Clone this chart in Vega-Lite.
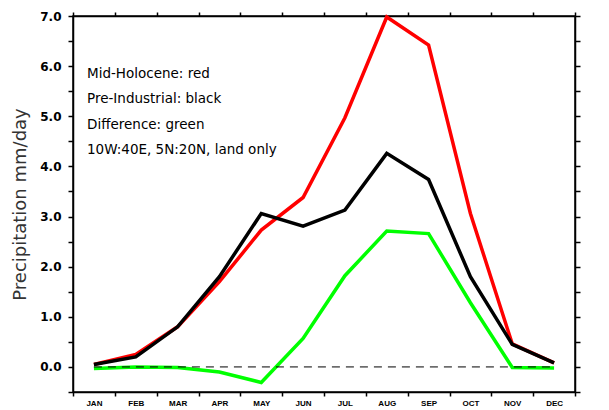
{
  "$schema": "https://vega.github.io/schema/vega-lite/v6.json",
  "width": 502,
  "height": 376,
  "autosize": "none",
  "padding": {"left": 73, "top": 16, "right": 34, "bottom": 18},
  "background": "white",
  "config": {"view": {"stroke": "black", "strokeWidth": 1.5}},
  "data": {"values": [
    {"month": 1, "series": "Mid-Holocene", "value": 0.05},
    {"month": 2, "series": "Mid-Holocene", "value": 0.25},
    {"month": 3, "series": "Mid-Holocene", "value": 0.8},
    {"month": 4, "series": "Mid-Holocene", "value": 1.7},
    {"month": 5, "series": "Mid-Holocene", "value": 2.73},
    {"month": 6, "series": "Mid-Holocene", "value": 3.38},
    {"month": 7, "series": "Mid-Holocene", "value": 4.97},
    {"month": 8, "series": "Mid-Holocene", "value": 6.98},
    {"month": 9, "series": "Mid-Holocene", "value": 6.42},
    {"month": 10, "series": "Mid-Holocene", "value": 3.06},
    {"month": 11, "series": "Mid-Holocene", "value": 0.46},
    {"month": 12, "series": "Mid-Holocene", "value": 0.08},
    {"month": 1, "series": "Pre-Industrial", "value": 0.05},
    {"month": 2, "series": "Pre-Industrial", "value": 0.2},
    {"month": 3, "series": "Pre-Industrial", "value": 0.8},
    {"month": 4, "series": "Pre-Industrial", "value": 1.8},
    {"month": 5, "series": "Pre-Industrial", "value": 3.06},
    {"month": 6, "series": "Pre-Industrial", "value": 2.81},
    {"month": 7, "series": "Pre-Industrial", "value": 3.13},
    {"month": 8, "series": "Pre-Industrial", "value": 4.26},
    {"month": 9, "series": "Pre-Industrial", "value": 3.74},
    {"month": 10, "series": "Pre-Industrial", "value": 1.8},
    {"month": 11, "series": "Pre-Industrial", "value": 0.45},
    {"month": 12, "series": "Pre-Industrial", "value": 0.08},
    {"month": 1, "series": "Difference", "value": -0.03},
    {"month": 2, "series": "Difference", "value": 0.0},
    {"month": 3, "series": "Difference", "value": -0.01},
    {"month": 4, "series": "Difference", "value": -0.1},
    {"month": 5, "series": "Difference", "value": -0.31},
    {"month": 6, "series": "Difference", "value": 0.57},
    {"month": 7, "series": "Difference", "value": 1.82},
    {"month": 8, "series": "Difference", "value": 2.71},
    {"month": 9, "series": "Difference", "value": 2.66},
    {"month": 10, "series": "Difference", "value": 1.28},
    {"month": 11, "series": "Difference", "value": -0.01},
    {"month": 12, "series": "Difference", "value": -0.02}
  ]},
  "resolve": {"scale": {"x": "shared", "y": "shared"}, "axis": {"x": "independent", "y": "independent"}},
  "layer": [
    {
      "mark": {"type": "line", "strokeWidth": 3.5, "strokeJoin": "miter"},
      "encoding": {
        "x": {
          "field": "month", "type": "quantitative",
          "scale": {"domain": [0.5, 12.5], "nice": false, "zero": false},
          "axis": {
            "orient": "bottom", "title": null, "grid": false, "domain": true,
            "values": [0.5, 1, 1.5, 2, 2.5, 3, 3.5, 4, 4.5, 5, 5.5, 6, 6.5, 7, 7.5, 8, 8.5, 9, 9.5, 10, 10.5, 11, 11.5, 12, 12.5],
            "labelExpr": "datum.value % 1 == 0 ? ['JAN','FEB','MAR','APR','MAY','JUN','JUL','AUG','SEP','OCT','NOV','DEC'][datum.value - 1] : ''",
            "tickOpacity": {"condition": {"test": "datum.value % 1 == 0", "value": 0}, "value": 1},
            "tickSize": 4, "tickColor": "black", "tickWidth": 1.5,
            "domainColor": "black", "domainWidth": 1.5,
            "labelFont": "Liberation Sans", "labelFontWeight": "bold", "labelFontSize": 8,
            "labelColor": "black", "labelPadding": 3,
            "labelOverlap": false, "labelFlush": false, "labelBound": false
          }
        },
        "y": {
          "field": "value", "type": "quantitative",
          "scale": {"domain": [-0.5, 7], "nice": false, "zero": false},
          "axis": {
            "orient": "left", "title": "Precipitation mm/day", "grid": false, "domain": true,
            "values": [-0.5, 0, 0.5, 1, 1.5, 2, 2.5, 3, 3.5, 4, 4.5, 5, 5.5, 6, 6.5, 7],
            "labelExpr": "datum.value >= 0 && datum.value % 1 == 0 ? format(datum.value, '.1f') : ''",
            "tickSize": 5, "tickColor": "black", "tickWidth": 1.5,
            "domainColor": "black", "domainWidth": 1.5,
            "labelFont": "DejaVu Sans", "labelFontWeight": "bold", "labelFontSize": 12,
            "labelColor": "black", "labelPadding": 7,
            "labelOverlap": false, "labelFlush": false, "labelBound": false,
            "titleFont": "DejaVu Sans", "titleFontWeight": "normal", "titleFontSize": 18,
            "titleColor": "#333333", "titlePadding": 10
          }
        },
        "color": {
          "field": "series", "type": "nominal",
          "scale": {"domain": ["Mid-Holocene", "Pre-Industrial", "Difference"], "range": ["#ff0000", "#000000", "#00ff00"]},
          "legend": null
        },
        "order": {"field": "month"}
      }
    },
    {
      "data": {"values": [{"from": 1, "to": 12, "level": 0}]},
      "mark": {"type": "rule", "color": "black", "strokeWidth": 1, "strokeDash": [8, 6]},
      "encoding": {
        "x": {
          "field": "from", "type": "quantitative",
          "axis": {
            "orient": "top", "title": null, "grid": false, "labels": false, "domain": true,
            "values": [0.5, 1.5, 2.5, 3.5, 4.5, 5.5, 6.5, 7.5, 8.5, 9.5, 10.5, 11.5, 12.5],
            "tickSize": 4, "tickColor": "black", "tickWidth": 1.5,
            "domainColor": "black", "domainWidth": 1.5
          }
        },
        "x2": {"field": "to"},
        "y": {
          "field": "level", "type": "quantitative",
          "axis": {
            "orient": "right", "title": null, "grid": false, "labels": false, "domain": true,
            "values": [-0.5, 0, 0.5, 1, 1.5, 2, 2.5, 3, 3.5, 4, 4.5, 5, 5.5, 6, 6.5, 7],
            "tickSize": 5, "tickColor": "black", "tickWidth": 1.5,
            "domainColor": "black", "domainWidth": 1.5
          }
        }
      }
    },
    {
      "data": {"values": [{"note": ["Mid-Holocene: red", "Pre-Industrial: black", "Difference: green", "10W:40E, 5N:20N, land only"]}]},
      "mark": {"type": "text", "align": "left", "baseline": "middle", "font": "DejaVu Sans", "fontSize": 13.5, "lineHeight": 25.3, "color": "black"},
      "encoding": {
        "x": {"datum": 0.835, "type": "quantitative", "axis": null},
        "y": {"datum": 5.84, "type": "quantitative", "axis": null},
        "text": {"field": "note"}
      }
    }
  ]
}
